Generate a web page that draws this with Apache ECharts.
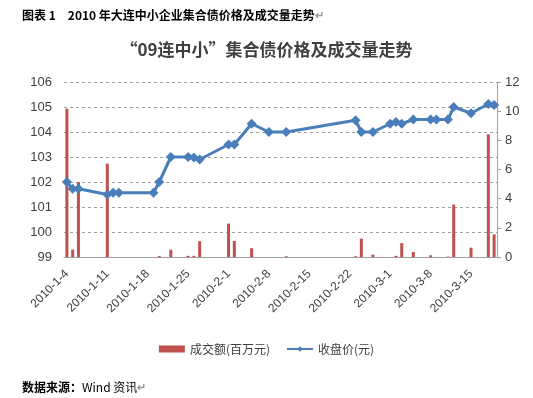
<!DOCTYPE html>
<html>
<head>
<meta charset="utf-8">
<script src="https://cdn.jsdelivr.net/npm/echarts@6/dist/echarts.min.js"></script>
<style>
html, body { margin: 0; padding: 0; background: #fff; }
#main { width: 533px; height: 398px; }
</style>
</head>
<body>
<div id="main"></div>
<script>
// 交易日
var tradeDates = ['2010-1-4', '2010-1-5', '2010-1-6', '2010-1-11', '2010-1-12', '2010-1-13',
	'2010-1-19', '2010-1-20', '2010-1-22', '2010-1-25', '2010-1-26', '2010-1-27',
	'2010-2-1', '2010-2-2', '2010-2-5', '2010-2-8', '2010-2-11', '2010-2-23',
	'2010-2-24', '2010-2-26', '2010-3-1', '2010-3-2', '2010-3-3', '2010-3-5',
	'2010-3-8', '2010-3-9', '2010-3-11', '2010-3-12', '2010-3-15', '2010-3-18', '2010-3-19'];
// 收盘价(元)
var closePrice = [102.0, 101.73, 101.73, 101.5, 101.57, 101.57,
	101.57, 102.0, 103.0, 103.0, 102.98, 102.9,
	103.5, 103.5, 104.33, 104.0, 104.0, 104.47,
	104.0, 104.0, 104.33, 104.4, 104.33, 104.5,
	104.5, 104.5, 104.5, 105.0, 104.75, 105.12, 105.08];
// 成交额(百万元)
var turnover = [10.17, 0.5, 5.14, 6.4, null, null,
	null, 0.07, 0.5, 0.08, 0.08, 1.08,
	2.29, 1.1, 0.6, null, 0.05, 0.05,
	1.26, 0.16, null, 0.08, 0.95, 0.34,
	0.12, null, 0.03, 3.59, 0.64, 8.41, 1.55];

window.onload = function() {

	var myChart = echarts.init(document.getElementById('main'));

	// 日期轴：2010-1-4 到 2010-3-19 的每一天
	var days = [];
	var d = new Date(2010, 0, 4);
	var end = new Date(2010, 2, 19);
	while (d <= end) {
		days.push(d.getFullYear() + '-' + (d.getMonth() + 1) + '-' + d.getDate());
		d.setDate(d.getDate() + 1);
	}

	var priceData = days.map(function(day) {
		var i = tradeDates.indexOf(day);
		return i >= 0 ? closePrice[i] : null;
	});
	var barData = days.map(function(day) {
		var i = tradeDates.indexOf(day);
		return i >= 0 ? turnover[i] : null;
	});

	var font = '"Liberation Sans", "Noto Sans CJK SC", sans-serif';

	var option = {
		backgroundColor: '#fff',
		animation: false,
		title: [
			{
				text: '图表 1　2010 年大连中小企业集合债价格及成交量走势{r|↵}',
				left: 17, top: 4,
				textStyle: {
					fontFamily: '"Noto Sans CJK SC", sans-serif',
					fontSize: 12, fontWeight: 'bold', color: '#000',
					rich: { r: { color: '#999', fontSize: 11 } }
				}
			},
			{
				text: '“09连中小”集合债价格及成交量走势',
				left: 'center', top: 36,
				textStyle: {
					fontFamily: '"Noto Sans CJK SC", sans-serif',
					fontSize: 17, fontWeight: 'bold', color: '#404040'
				}
			},
			{
				text: '数据来源：{w|Wind 资讯}{r|↵}',
				left: 17, top: 376,
				textStyle: {
					fontFamily: '"Noto Sans CJK SC", sans-serif',
					fontSize: 12, fontWeight: 'bold', color: '#000',
					rich: {
						w: { fontSize: 12, fontWeight: 'normal', color: '#000' },
						r: { color: '#999', fontSize: 11 }
					}
				}
			}
		],
		legend: {
			left: 'center', top: 338,
			itemGap: 16,
			textStyle: { fontFamily: '"Noto Sans CJK SC", sans-serif', fontSize: 12, color: '#404040' },
			data: [
				{ name: '成交额(百万元)', icon: 'rect', itemStyle: { color: '#C0504D' } },
				{ name: '收盘价(元)' }
			],
			itemWidth: 26, itemHeight: 7
		},
		grid: { left: 64, right: 36, top: 82, bottom: 141, containLabel: false },
		xAxis: {
			type: 'category',
			data: days,
			boundaryGap: true,
			axisLine: { lineStyle: { color: '#A0A0A0' } },
			axisTick: { show: false },
			axisLabel: {
				interval: 6, rotate: 45, margin: 15,
				fontFamily: font, fontSize: 12, color: '#404040'
			}
		},
		yAxis: [
			{
				type: 'value', min: 99, max: 106, interval: 1,
				axisLine: { show: false },
				axisTick: { show: false },
				axisLabel: { fontFamily: font, fontSize: 13, color: '#404040', margin: 12 },
				splitLine: { lineStyle: { color: '#A0A0A0', type: [3, 3] } }
			},
			{
				type: 'value', min: 0, max: 12, interval: 2,
				axisLine: { show: true, lineStyle: { color: '#A0A0A0' } },
				axisTick: { show: true, length: 4, lineStyle: { color: '#A0A0A0' } },
				axisLabel: { fontFamily: font, fontSize: 13, color: '#404040', margin: 8 },
				splitLine: { show: false }
			}
		],
		series: [
			{
				name: '成交额(百万元)',
				type: 'bar',
				yAxisIndex: 1,
				barWidth: 3,
				itemStyle: { color: '#C0504D' },
				data: barData
			},
			{
				name: '收盘价(元)',
				type: 'line',
				yAxisIndex: 0,
				connectNulls: true,
				showAllSymbol: true,
				symbol: 'diamond',
				symbolSize: 10,
				lineStyle: { color: '#4A7EBB', width: 3 },
				itemStyle: { color: '#4A7EBB' },
				data: priceData
			}
		]
	};

	myChart.setOption(option);

}
</script>
</body>
</html>
